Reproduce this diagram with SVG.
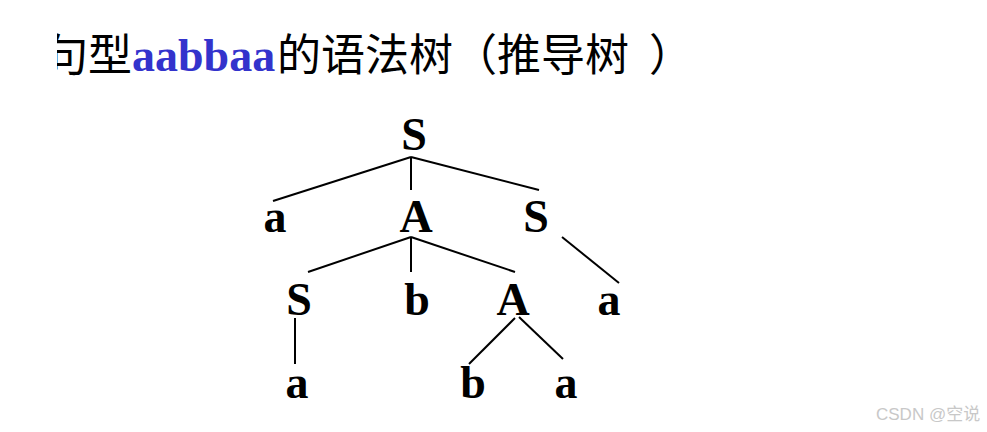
<svg xmlns="http://www.w3.org/2000/svg" width="987" height="432" viewBox="0 0 987 432">
<style>
.n{font-family:"Liberation Serif","Times New Roman",serif;font-weight:bold;font-size:46px;fill:#000;text-anchor:middle}
.cjk{font-family:"Noto Sans CJK SC","Noto Sans",sans-serif;font-size:44px;fill:#000}
.lat{font-family:"Liberation Serif","Times New Roman",serif;font-weight:bold;font-size:46px;fill:#3333CC}
.e{stroke:#000;stroke-width:2;fill:none}
.wm{font-family:"Liberation Sans","Noto Sans CJK SC",sans-serif;font-size:17px;fill:#c8c8c8}
</style>
<defs><clipPath id="tc"><rect x="57" y="0" width="930" height="100"/></clipPath></defs>
<rect width="987" height="432" fill="#fff"/>
<g id="title" clip-path="url(#tc)">
<text class="cjk" x="44" y="71">句型</text>
<text class="lat" x="132" y="71">aabbaa</text>
<text class="cjk" x="277" y="71">的语法树（推导树<tspan dx="20">）</tspan></text>
</g>
<g id="connectors">
<line class="e" x1="411" y1="157" x2="273" y2="201"/>
<line class="e" x1="411" y1="157" x2="411" y2="190"/>
<line class="e" x1="411" y1="157" x2="539" y2="190"/>
<line class="e" x1="411" y1="237" x2="308" y2="272"/>
<line class="e" x1="411" y1="237" x2="411" y2="272"/>
<line class="e" x1="411" y1="237" x2="515" y2="272"/>
<line class="e" x1="562" y1="237" x2="619" y2="283"/>
<line class="e" x1="295" y1="318" x2="295" y2="364"/>
<line class="e" x1="515" y1="318" x2="469" y2="364"/>
<line class="e" x1="519" y1="317" x2="563" y2="359"/>
</g>
<g id="n_S0"><text class="n" x="414" y="150">S</text></g>
<g id="n_a1"><text class="n" x="275" y="232">a</text></g>
<g id="n_A1"><text class="n" x="416" y="232">A</text></g>
<g id="n_S1"><text class="n" x="536" y="232">S</text></g>
<g id="n_S2"><text class="n" x="299" y="315">S</text></g>
<g id="n_b2"><text class="n" x="417" y="315">b</text></g>
<g id="n_A2"><text class="n" x="513" y="315">A</text></g>
<g id="n_a2"><text class="n" x="609" y="315">a</text></g>
<g id="n_a3"><text class="n" x="297" y="398">a</text></g>
<g id="n_b3"><text class="n" x="473" y="398">b</text></g>
<g id="n_a4"><text class="n" x="566" y="398">a</text></g>
<text class="wm" x="876" y="420">CSDN @空说</text>
</svg>
